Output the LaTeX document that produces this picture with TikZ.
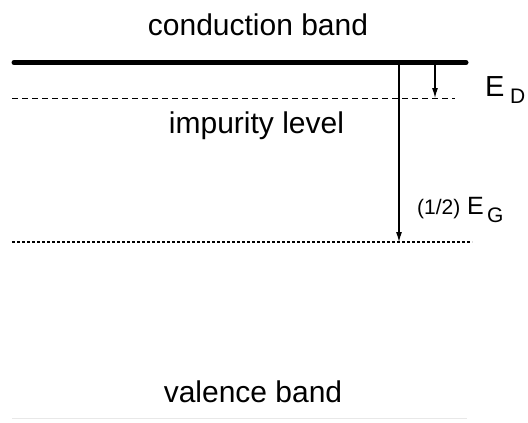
\documentclass[tikz,border=0pt]{standalone}
\usepackage{fontspec}
\setmainfont{Liberation Sans}
\usetikzlibrary{arrows.meta}
\begin{document}
\begin{tikzpicture}[x=1pt,y=-1pt,
  lbl/.style={inner sep=0pt,font=\fontsize{30}{30}\selectfont},
  sym/.style={inner sep=0pt,anchor=base west},
  gap/.style={-{Latex[length=10pt,width=6pt]},line width=1.1pt}]
\useasboundingbox (0,0) rectangle (528,423);

% band labels
\node[lbl,anchor=base] (cb) at (258,35) {conduction band};
\node[lbl,anchor=base] (il) at (256.5,133) {impurity level};
\node[lbl,anchor=base] (vb) at (253,402) {valence band};

% energy levels
\coordinate (cbL) at (14,62.5);
\coordinate (cbR) at (466,62.5);
\draw[line width=5pt,line cap=round] (cbL) -- (cbR);

\coordinate (dL) at (12,98);
\coordinate (dR) at (455,98);
\draw[line width=0.9pt,dash pattern=on 6pt off 4pt] (dL) -- (dR);

\coordinate (mL) at (12,242);
\coordinate (mR) at (472,242);
\draw[line width=2.6pt,dash pattern=on 2.6pt off 2.4pt] (mL) -- (mR);

\coordinate (vL) at (12,418);
\coordinate (vR) at (467,418);
\draw[line width=1pt,black!9] (vL) -- (vR);

% transitions
\coordinate (aTop) at (435,65);
\coordinate (aBot) at (435,98);
\draw[gap] (aTop) -- (aBot);
\coordinate (gTop) at (399,65);
\coordinate (gBot) at (399,242);
\draw[gap] (gTop) -- (gBot);

% energy symbols
\node[sym,font=\fontsize{29}{29}\selectfont] (ed) at (485,96) {E};
\node[sym,font=\fontsize{21}{21}\selectfont] (edsub) at (510,103) {D};
\node[sym,font=\fontsize{21}{21}\selectfont] (half) at (417,214) {(1/2)};
\node[sym,font=\fontsize{25}{25}\selectfont] (eg) at (467,214) {E};
\node[sym,font=\fontsize{21}{21}\selectfont] (egsub) at (487,222) {G};
\end{tikzpicture}
\end{document}
